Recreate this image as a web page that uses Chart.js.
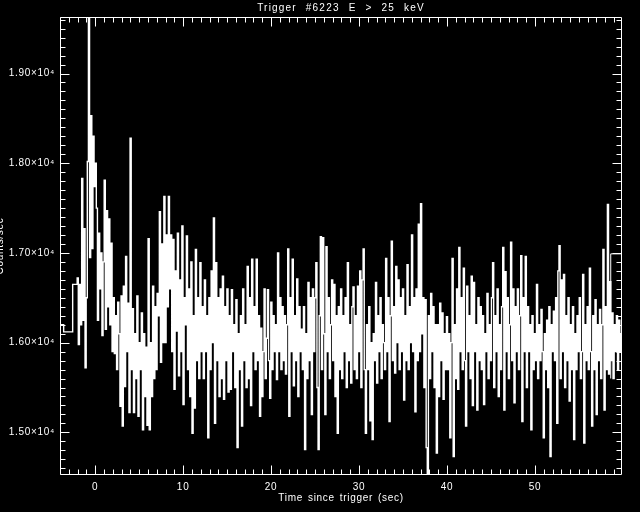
<!DOCTYPE html>
<html>
<head>
<meta charset="utf-8">
<script src="https://cdn.jsdelivr.net/npm/chart.js@4.4.0/dist/chart.umd.min.js"></script>
<style>
  html, body { margin: 0; padding: 0; background: #000; }
  canvas { display: block; }
</style>
</head>
<body>
<canvas id="chart" width="640" height="512"></canvas>
<script>
// pre-trigger 1.024 s bins
const preTimes = [-4.1, -3.584, -2.56];
const preCounts = [16200, 16120, 16650];

// binned rate after -2.048 s, one line per ~1 s
const binStart = -2.048;
const binWidth = 0.128;
const counts = [
  16720, 15980, 16650, 16200, 17830, 16250, 17270, 15720,
  16500, 18020, 19700, 16950, 18530, 17050, 18300, 17740,
  18000, 17500, 16250, 17220, 16600, 17000, 16080, 16900,
  17810, 16150, 17470, 16400, 17380, 16200, 17110, 15900,
  16500, 15880, 16300, 15700, 16450, 16100, 15290, 16520,
  15070, 16630, 15510, 16960, 15900, 16440, 15220, 18280,
  15700, 16380, 15220, 16100, 15600, 16520, 15180, 16000,
  15700, 16330, 15030, 16100, 15400, 15950, 15080, 17160,
  15030, 16000, 15400, 16630, 15600, 16400, 15700, 16550,
  16300, 17460, 15780, 17100, 16000, 17630, 16000, 17200,
  16400, 17630, 16600, 17200, 15900, 17150, 15480, 16800,
  16130, 17220, 15630, 16700, 15900, 17300, 15310, 16500,
  16200, 17190, 15700, 16600, 15400, 16900, 14990, 16300,
  15270, 17040, 15800, 16500, 15600, 16890, 15900, 16400,
  15600, 16700, 15900, 16300, 14940, 16500, 15700, 16800,
  16000, 17390, 15100, 16890, 15800, 16500, 15400, 16600,
  15600, 16740, 15370, 16400, 15800, 16600, 15450, 16300,
  15480, 16590, 15900, 16200, 15500, 16480, 14830, 16100,
  15700, 16300, 15070, 16600, 15800, 16200, 15500, 16850,
  15600, 16500, 15300, 16930, 15900, 16400, 15700, 16930,
  15800, 16300, 15180, 16160, 15400, 15900, 16600, 15600,
  16050, 16590, 15800, 15380, 16450, 15700, 16300, 15900,
  16200, 15590, 17000, 15900, 16500, 15700, 16400, 15800,
  16300, 15650, 16200, 17045, 15180, 16500, 15900, 16930,
  15520, 16300, 15800, 16710, 15400, 16400, 15900, 16150,
  15700, 16400, 14810, 16100, 15600, 16670, 15800, 16500,
  15200, 16600, 15900, 16500, 16890, 15500, 14810, 16300,
  17180, 15700, 17170, 16100, 15200, 17070, 15900, 16500,
  15600, 16200, 16700, 15800, 16650, 15400, 16300, 14990,
  16400, 15700, 16600, 15600, 16300, 15900, 16500, 15500,
  16890, 15800, 16200, 15550, 16400, 16620, 15700, 16300,
  15600, 16630, 15900, 16800, 15500, 16700, 17045, 15700,
  14990, 16200, 15700, 16400, 15130, 16000, 14920, 16100,
  15800, 16670, 15550, 16300, 15900, 16500, 15600, 16200,
  16000, 15700, 16940, 15900, 16500, 15120, 16300, 17130,
  15800, 16400, 15660, 16850, 16000, 16700, 15700, 16500,
  15900, 16600, 15360, 16300, 15800, 16870, 15700, 16400,
  16000, 17200, 15900, 16500, 15230, 16600, 15800, 17320,
  15900, 17550, 16100, 16500, 15500, 16480, 14830, 14400,
  16300, 15600, 16550, 15900, 16400, 15500, 16200, 14770,
  16200, 15400, 16440, 15800, 16330, 15370, 16100, 15700,
  16290, 15700, 16100, 14940, 16000, 16940, 14730, 16200,
  15600, 16600, 15480, 17060, 15900, 16500, 15700, 16830,
  15800, 15070, 16630, 15900, 16300, 15600, 16740, 15300,
  16670, 15900, 16200, 15250, 16500, 15800, 16400, 15700,
  16300, 15310, 16100, 15900, 16550, 15600, 16200, 15800,
  16500, 16890, 15500, 16300, 15900, 16600, 15400, 16200,
  15700, 16400, 17060, 15250, 16790, 15900, 16500, 15600,
  16200, 17120, 15800, 16600, 15330, 16400, 15900, 16600,
  15700, 16300, 16970, 15120, 16500, 15900, 16960, 15500,
  16400, 15900, 16200, 15030, 16300, 15700, 16100, 15800,
  16650, 15600, 16200, 15800, 16370, 15900, 14940, 16100,
  15700, 16250, 15500, 16400, 14730, 16200, 15900, 16350,
  15800, 16500, 15100, 16800, 17080, 15600, 16700, 15900,
  16760, 15500, 16300, 15800, 16500, 15350, 16200, 15700,
  16400, 14920, 16100, 15700, 16300, 15900, 16500, 15600,
  15900, 16760, 14880, 16200, 15800, 16400, 15700, 16830,
  15900, 15070, 16300, 15700, 16480, 15200, 16200, 15800,
  16370, 15600, 16200, 17040, 15250, 16400, 15700, 17540,
  15650, 16680, 15800, 16330, 15600, 16200, 15900, 16300,
  15700, 16250, 15900, 16100
];

// late 1.024 s level near the end
const lateTimes = [58.62, 58.62, 60.5];
const lateCounts = [15600, 16990, 16990];

const xTicks = [0, 10, 20, 30, 40, 50];
const yTicks = [15000, 16000, 17000, 18000, 19000];
const titleText = 'Trigger #6223 E > 25 keV';

const mainPoints = preTimes.map((t, i) => ({x: t, y: preCounts[i]}));
counts.forEach((c, i) => mainPoints.push({x: binStart + i * binWidth, y: c}));
mainPoints.push({x: binStart + counts.length * binWidth, y: counts[counts.length - 1]});
const latePoints = lateTimes.map((t, i) => ({x: t, y: lateCounts[i]}));

const font = {family: '"Liberation Sans", Arial, sans-serif', size: 10};

// box with inward ticks on all four sides, and the title
const frame = {
  id: 'frame',
  beforeDraw(chart) {
    const ctx = chart.ctx;
    ctx.save();
    ctx.fillStyle = '#000';
    ctx.fillRect(0, 0, chart.width, chart.height);
    ctx.restore();
    ctx.letterSpacing = '0.7px';
    ctx.wordSpacing = '1.5px';
  },
  afterDraw(chart) {
    const {ctx, chartArea: a, scales: {x, y}} = chart;
    const L = a.left + 0.5, R = a.right - 0.5, T = a.top + 0.5, B = a.bottom - 0.5;
    ctx.save();
    ctx.strokeStyle = '#fff';
    ctx.lineWidth = 1;
    ctx.beginPath();
    ctx.moveTo(L, T); ctx.lineTo(R, T); ctx.lineTo(R, B); ctx.lineTo(L, B); ctx.closePath();
    for (let t = -4; t <= 59; t++) {
      const px = Math.round(x.getPixelForValue(t)) + 0.5;
      const len = t % 10 === 0 ? 9 : 5;
      ctx.moveTo(px, B); ctx.lineTo(px, B - len);
      ctx.moveTo(px, T); ctx.lineTo(px, T + len);
    }
    for (let v = 14600; v <= 19600; v += 100) {
      const py = Math.round(y.getPixelForValue(v)) + 0.5;
      const len = v % 1000 === 0 ? 9 : 5;
      ctx.moveTo(L, py); ctx.lineTo(L + len, py);
      ctx.moveTo(R, py); ctx.lineTo(R - len, py);
    }
    ctx.stroke();

    ctx.font = '10px "Liberation Sans", Arial, sans-serif';
    ctx.letterSpacing = '1.2px';
    ctx.wordSpacing = '5px';
    ctx.fillStyle = '#fff';
    ctx.textAlign = 'center';
    ctx.textBaseline = 'alphabetic';
    ctx.fillText(titleText, (a.left + a.right) / 2, 10.7);
    ctx.restore();
  }
};

new Chart(document.getElementById('chart'), {
  type: 'line',
  data: {
    datasets: [
      {
        data: mainPoints,
        borderColor: '#fff',
        borderWidth: 1.4,
        pointRadius: 0,
        stepped: true,
        tension: 0
      },
      {
        data: latePoints,
        borderColor: '#fff',
        borderWidth: 1,
        pointRadius: 0,
        stepped: true,
        tension: 0
      }
    ]
  },
  options: {
    responsive: false,
    animation: false,
    events: [],
    layout: {padding: {top: 17, right: 18, left: 0, bottom: 0}},
    plugins: {legend: {display: false}, tooltip: {enabled: false}},
    scales: {
      x: {
        type: 'linear',
        min: -4,
        max: 59.9,
        grid: {display: false, drawTicks: false},
        border: {display: false},
        afterBuildTicks: s => { s.ticks = xTicks.map(v => ({value: v})); },
        afterFit: s => { s.height = 37; },
        ticks: {color: '#fff', font, padding: 6, maxRotation: 0},
        title: {display: true, text: 'Time since trigger (sec)', color: '#fff', font, padding: {top: 0, bottom: 8}}
      },
      y: {
        type: 'linear',
        min: 14525,
        max: 19630,
        grid: {display: false, drawTicks: false},
        border: {display: false},
        afterBuildTicks: s => { s.ticks = yTicks.map(v => ({value: v})); },
        afterFit: s => { s.width = 60; },
        ticks: {
          color: '#fff', font, padding: 5,
          callback: v => (v / 10000).toFixed(2) + '×10⁴'
        },
        title: {display: true, text: 'Counts/sec', color: '#fff', font, padding: {top: -5.5, bottom: 0}}
      }
    }
  },
  plugins: [frame]
});
</script>
</body>
</html>
